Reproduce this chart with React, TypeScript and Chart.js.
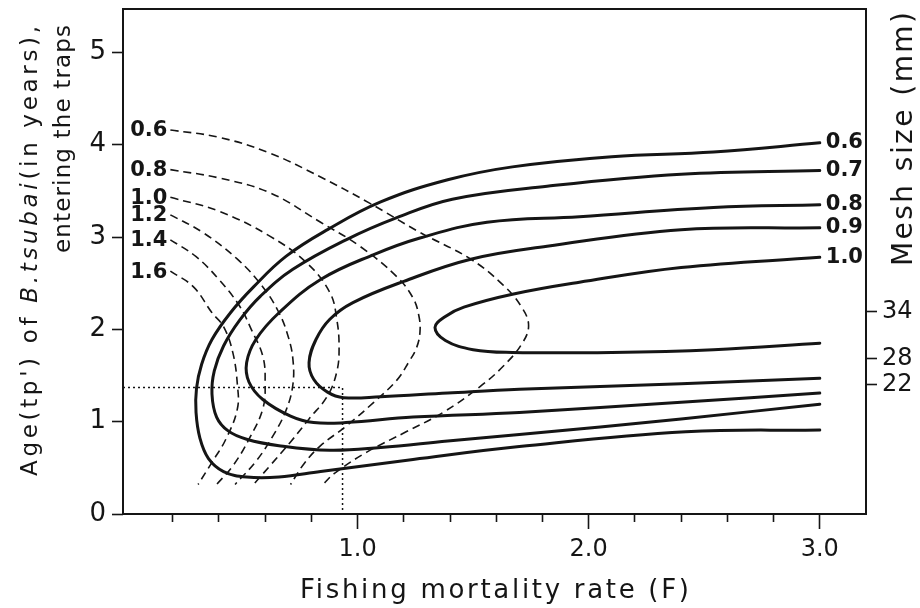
import { useEffect, useRef } from "react";
import { Chart, registerables } from "chart.js";

Chart.register(...registerables);

type Pt = [number, number];

// Axis ranges
const X_MIN = -0.015;
const X_MAX = 3.2;
const Y_MIN = 0;
const Y_MAX = 5.47;

// Tick marks: fishing mortality (bottom), age (left), mesh size (right)
const xTickValues = [0.2, 0.4, 0.6, 0.8, 1.0, 1.2, 1.4, 1.6, 1.8, 2.0, 2.2, 2.4, 2.6, 2.8, 3.0];
const xMajorTicks = [1.0, 2.0, 3.0];
const yTickValues = [0, 1, 2, 3, 4, 5];
const meshSizes = [34, 28, 22];
const meshAges = [2.19, 1.68, 1.4];

// Optimum (F, tp') marked by the dotted guides
const optimumF = 0.935;
const optimumAge = 1.37;

// Solid isolines, from the upper end at F = 3.0 round the nose to the lower end
const solidLabels = ["0.6", "0.7", "0.8", "0.9", "1.0"];
const solid06: Pt[] = [
  [3.0, 4.02], [2.54, 3.92], [2.1, 3.87], [1.67, 3.76], [1.39, 3.62], [1.1, 3.38],
  [0.87, 3.08], [0.69, 2.79], [0.55, 2.46], [0.45, 2.18], [0.37, 1.89], [0.325, 1.62],
  [0.303, 1.36], [0.301, 1.1], [0.318, 0.82], [0.355, 0.6], [0.42, 0.46], [0.52, 0.4],
  [0.66, 0.4], [0.84, 0.46], [1.24, 0.59], [1.7, 0.73], [2.42, 0.89], [3.0, 0.91],
];
const solid07: Pt[] = [
  [3.0, 3.72], [2.4, 3.68], [1.82, 3.55], [1.41, 3.41], [1.17, 3.21], [0.95, 2.97],
  [0.72, 2.65], [0.58, 2.36], [0.49, 2.1], [0.42, 1.82], [0.38, 1.55], [0.37, 1.3],
  [0.39, 1.05], [0.44, 0.9], [0.52, 0.81], [0.66, 0.74], [0.88, 0.69], [1.1, 0.72],
  [1.39, 0.79], [1.7, 0.86], [2.4, 1.03], [3.0, 1.19],
];
const solid08: Pt[] = [
  [3.0, 3.35], [2.54, 3.32], [1.96, 3.22], [1.56, 3.16], [1.27, 2.99], [1.07, 2.81],
  [0.84, 2.54], [0.66, 2.18], [0.56, 1.89], [0.52, 1.64], [0.53, 1.43], [0.59, 1.24],
  [0.71, 1.06], [0.81, 0.99], [0.95, 0.99], [1.24, 1.05], [1.7, 1.1], [2.4, 1.21],
  [3.0, 1.31],
];
const solid09: Pt[] = [
  [3.0, 3.1], [2.4, 3.08], [1.82, 2.9], [1.49, 2.76], [1.2, 2.52], [0.98, 2.29],
  [0.88, 2.11], [0.82, 1.89], [0.79, 1.64], [0.81, 1.46], [0.87, 1.32], [0.94, 1.26],
  [1.1, 1.27], [1.39, 1.31], [1.7, 1.35], [2.4, 1.41], [3.0, 1.47],
];
const solid10: Pt[] = [
  [3.0, 2.78], [2.4, 2.67], [1.96, 2.51], [1.67, 2.38], [1.46, 2.24], [1.38, 2.14],
  [1.335, 2.02], [1.38, 1.88], [1.5, 1.78], [1.67, 1.75], [2.1, 1.75], [2.54, 1.78],
  [3.0, 1.85],
];
const solidCurves = [solid06, solid07, solid08, solid09, solid10];

// Dashed isolines, from the labelled left end down to the bottom
const dashedLabels = ["0.6", "0.8", "1.0", "1.2", "1.4", "1.6"];
const dashed06: Pt[] = [
  [0.19, 4.16], [0.4, 4.08], [0.62, 3.91], [0.84, 3.65], [1.05, 3.37], [1.27, 3.05],
  [1.49, 2.76], [1.63, 2.48], [1.71, 2.24], [1.74, 2.04], [1.71, 1.84], [1.63, 1.6],
  [1.53, 1.38], [1.37, 1.1], [1.21, 0.89], [1.04, 0.67], [0.9, 0.44], [0.85, 0.32],
];
const dashed08: Pt[] = [
  [0.19, 3.73], [0.4, 3.64], [0.62, 3.48], [0.84, 3.16], [1.01, 2.9], [1.17, 2.57],
  [1.24, 2.34], [1.265, 2.15], [1.27, 1.97], [1.255, 1.8], [1.22, 1.64], [1.17, 1.45],
  [1.07, 1.21], [0.95, 0.95], [0.84, 0.74], [0.77, 0.55], [0.71, 0.32],
];
const dashed10: Pt[] = [
  [0.19, 3.43], [0.4, 3.28], [0.62, 3.01], [0.78, 2.72], [0.88, 2.4], [0.91, 2.11],
  [0.92, 1.8], [0.91, 1.54], [0.87, 1.28], [0.79, 1.03], [0.71, 0.78], [0.62, 0.52],
  [0.55, 0.32],
];
const dashed12: Pt[] = [
  [0.19, 3.24], [0.33, 3.05], [0.48, 2.76], [0.59, 2.46], [0.66, 2.18], [0.7, 1.92],
  [0.72, 1.68], [0.72, 1.4], [0.69, 1.12], [0.63, 0.83], [0.56, 0.57], [0.47, 0.32],
];
const dashed14: Pt[] = [
  [0.19, 2.97], [0.3, 2.79], [0.4, 2.54], [0.49, 2.25], [0.54, 2.0], [0.59, 1.71],
  [0.6, 1.43], [0.59, 1.14], [0.53, 0.81], [0.46, 0.52], [0.39, 0.32],
];
const dashed16: Pt[] = [
  [0.19, 2.63], [0.29, 2.46], [0.37, 2.18], [0.42, 2.03], [0.46, 1.75], [0.48, 1.4],
  [0.48, 1.14], [0.43, 0.81], [0.37, 0.56], [0.31, 0.32],
];
const dashedCurves = [dashed06, dashed08, dashed10, dashed12, dashed14, dashed16];

const INK = "#151515";
const FAMILY = '"DejaVu Sans", "Noto Sans", sans-serif';

type Run = { text: string; italic?: boolean };

// Draws a run of text stretched with letter spacing to a given length,
// optionally rotated; align refers to the start, centre or end of the run.
function drawRun(
  ctx: CanvasRenderingContext2D,
  parts: Run[],
  x: number,
  y: number,
  angle: number,
  length: number,
  align: "start" | "center" | "end",
  size: number,
  weight: string
) {
  const c = ctx as any;
  ctx.save();
  ctx.translate(x, y);
  ctx.rotate(angle);
  ctx.textAlign = "left";
  ctx.textBaseline = "alphabetic";
  ctx.fillStyle = INK;
  c.letterSpacing = "0px";
  const fontFor = (p: Run) => `${p.italic ? "italic " : ""}${weight} ${size}px ${FAMILY}`;
  const widths = parts.map((p) => {
    ctx.font = fontFor(p);
    return ctx.measureText(p.text).width;
  });
  const natural = widths.reduce((s, w) => s + w, 0);
  const count = parts.reduce((s, p) => s + p.text.length, 0);
  const spacing = count > 1 ? (length - natural) / (count - 1) : 0;
  let cursor = align === "start" ? 0 : align === "center" ? -length / 2 : -length;
  parts.forEach((p, i) => {
    ctx.font = fontFor(p);
    c.letterSpacing = `${spacing}px`;
    ctx.fillText(p.text, cursor, 0);
    cursor += widths[i] + spacing * p.text.length;
  });
  ctx.restore();
}

const decorPlugin = {
  id: "decor",
  afterDatasetsDraw(chart: any) {
    const { ctx, chartArea: a } = chart;
    ctx.save();
    // plot frame
    ctx.strokeStyle = INK;
    ctx.lineWidth = 2;
    ctx.strokeRect(a.left, a.top, a.right - a.left, a.bottom - a.top);

    // isoline labels at the free ends of the curves
    ctx.fillStyle = INK;
    ctx.font = `bold 21px ${FAMILY}`;
    ctx.textBaseline = "middle";
    chart.data.datasets.forEach((ds: any, i: number) => {
      if (!ds.tag) return;
      const p = chart.getDatasetMeta(i).data[0];
      if (ds.side === "right") {
        ctx.textAlign = "left";
        ctx.fillText(ds.tag, p.x + 6, p.y);
      } else {
        ctx.textAlign = "right";
        ctx.fillText(ds.tag, p.x - 3, p.y + 1);
      }
    });
    ctx.restore();

    // axis titles
    drawRun(ctx, [{ text: "Fishing mortality rate (F)" }], (a.left + a.right) / 2, 598, 0, 389, "center", 26, "normal");
    drawRun(
      ctx,
      [{ text: "Age(tp') of " }, { text: "B.tsubai", italic: true }, { text: "(in years)," }],
      37,
      476,
      -Math.PI / 2,
      450,
      "start",
      23,
      "normal"
    );
    drawRun(ctx, [{ text: "entering the traps" }], 70, 25, -Math.PI / 2, 228, "end", 23, "normal");
    drawRun(ctx, [{ text: "Mesh size (mm)" }], 912, 12, -Math.PI / 2, 254, "end", 28, "normal");
  },
};

const toXY = (pts: Pt[]) => pts.map(([x, y]) => ({ x, y }));

function zeroPadding(s: any) {
  s.paddingTop = 0;
  s.paddingBottom = 0;
  s.paddingLeft = 0;
  s.paddingRight = 0;
}

export default function App() {
  const ref = useRef<HTMLCanvasElement>(null);

  useEffect(() => {
    const canvas = ref.current;
    if (!canvas) return;

    const datasets: any[] = [
      ...dashedCurves.map((pts, i) => ({
        label: `dashed ${dashedLabels[i]}`,
        tag: dashedLabels[i],
        side: "left",
        data: toXY(pts),
        borderColor: INK,
        borderWidth: 1.6,
        borderDash: [8, 5],
        pointRadius: 0,
        tension: 0.4,
        fill: false,
      })),
      ...solidCurves.map((pts, i) => ({
        label: `solid ${solidLabels[i]}`,
        tag: solidLabels[i],
        side: "right",
        data: toXY(pts),
        borderColor: INK,
        borderWidth: 3,
        pointRadius: 0,
        tension: 0.4,
        fill: false,
        borderCapStyle: "round",
        borderJoinStyle: "round",
      })),
      {
        label: "optimum",
        data: [
          { x: X_MIN, y: optimumAge },
          { x: optimumF, y: optimumAge },
          { x: optimumF, y: Y_MIN },
        ],
        borderColor: INK,
        borderWidth: 1.5,
        borderDash: [2, 3],
        pointRadius: 0,
        tension: 0,
        fill: false,
      },
    ];

    const chart = new Chart(canvas, {
      type: "line",
      data: { datasets },
      options: {
        responsive: false,
        animation: false,
        layout: { padding: { top: 9, left: 0, right: 0, bottom: 0 } },
        plugins: {
          legend: { display: false },
          tooltip: { enabled: false },
        },
        scales: {
          x: {
            type: "linear",
            min: X_MIN,
            max: X_MAX,
            afterBuildTicks: (s: any) => {
              s.ticks = xTickValues.map((v) => ({ value: v }));
            },
            afterFit: (s: any) => {
              s.height = 94;
              zeroPadding(s);
            },
            ticks: {
              autoSkip: false,
              maxRotation: 0,
              padding: 6,
              color: INK,
              font: { family: FAMILY, size: 24 },
              callback: (v: any) => (xMajorTicks.includes(v) ? Number(v).toFixed(1) : ""),
            },
            grid: {
              drawOnChartArea: false,
              drawTicks: true,
              tickLength: 15,
              tickWidth: 1.6,
              tickColor: INK,
              tickBorderDash: (c: any) => (xMajorTicks.includes(c.tick?.value) ? [] : [8, 40]),
            },
            border: { display: false },
          },
          y: {
            type: "linear",
            position: "left",
            min: Y_MIN,
            max: Y_MAX,
            afterBuildTicks: (s: any) => {
              s.ticks = yTickValues.map((v) => ({ value: v }));
            },
            afterFit: (s: any) => {
              s.width = 123;
              zeroPadding(s);
            },
            ticks: {
              autoSkip: false,
              padding: 6,
              color: INK,
              font: { family: FAMILY, size: 26 },
              callback: (v: any) => String(v),
            },
            grid: {
              drawOnChartArea: false,
              drawTicks: true,
              tickLength: 11,
              tickWidth: 1.6,
              tickColor: INK,
            },
            border: { display: false },
          },
          y2: {
            type: "linear",
            position: "right",
            min: Y_MIN,
            max: Y_MAX,
            afterBuildTicks: (s: any) => {
              s.ticks = meshAges.map((v) => ({ value: v }));
            },
            afterFit: (s: any) => {
              s.width = 54;
              zeroPadding(s);
            },
            ticks: {
              autoSkip: false,
              padding: 5,
              color: INK,
              font: { family: FAMILY, size: 24 },
              callback: (_v: any, i: number) => String(meshSizes[i]),
            },
            grid: {
              drawOnChartArea: false,
              drawTicks: true,
              tickLength: 11,
              tickWidth: 1.6,
              tickColor: INK,
            },
            border: { display: false },
          },
        },
      },
      plugins: [decorPlugin],
    } as any);

    return () => chart.destroy();
  }, []);

  return (
    <div style={{ position: "fixed", left: 0, top: 0, width: 920, height: 608, background: "#fff" }}>
      <canvas ref={ref} width={920} height={608} style={{ display: "block", width: 920, height: 608 }} />
    </div>
  );
}
